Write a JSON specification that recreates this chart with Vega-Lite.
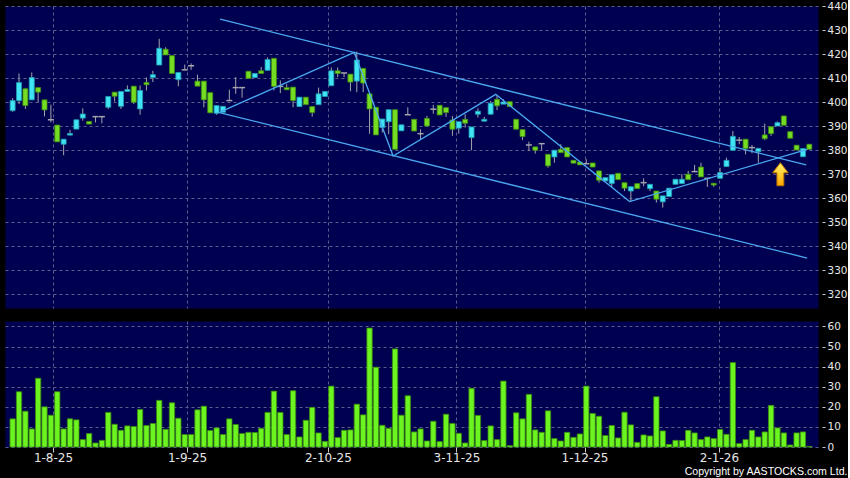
{
"$schema": "https://vega.github.io/schema/vega-lite/v6.json",
"background": "#000000",
"padding": {"left": 4, "top": 0, "right": 0, "bottom": 0},
"spacing": 11,
"title": {"text": "Copyright by AASTOCKS.com Ltd.", "orient": "bottom", "anchor": "end", "font": "Liberation Sans", "fontSize": 10.6, "fontWeight": "normal", "color": "#ffffff", "offset": 3},
"config": {
  "view": {"fill": "#000050", "stroke": "transparent"},
  "axis": {"domain": false, "title": null, "gridColor": "#5e5e8e", "gridDash": [3, 3], "gridWidth": 1, "labelColor": "#e6e6e6", "labelFont": "DejaVu Sans", "tickColor": "#c8c8c8", "labelOverlap": false}
},
"datasets": {
  "k": [
{"i":0,"o":396.5,"h":401.7,"l":396,"c":400.7,"v":14},
{"i":1,"o":400.7,"h":412,"l":399.3,"c":408.2,"v":27.5},
{"i":2,"o":405.6,"h":406,"l":397.2,"c":398.6,"v":17.8},
{"i":3,"o":401,"h":412.4,"l":401,"c":410.3,"v":9},
{"i":4,"o":406.1,"h":406.1,"l":400,"c":404.2,"v":34.2},
{"i":5,"o":401,"h":401,"l":394.1,"c":396.8,"v":20},
{"i":6,"o":392.7,"h":399,"l":391.6,"c":392.7,"v":15.8},
{"i":7,"o":390.5,"h":390.5,"l":383.5,"c":383.5,"v":27.5},
{"i":8,"o":382.5,"h":384.6,"l":377.9,"c":384.6,"v":9},
{"i":9,"o":386.3,"h":388.5,"l":386.3,"c":387,"v":14},
{"i":10,"o":388.8,"h":392.7,"l":388.8,"c":392.7,"v":13.5},
{"i":11,"o":393.4,"h":397.5,"l":392.3,"c":395.1,"v":3.7},
{"i":12,"o":392,"h":392,"l":390.9,"c":390.9,"v":6.7},
{"i":13,"o":394,"h":394,"l":391.6,"c":394,"v":2},
{"i":14,"o":394,"h":394,"l":391.2,"c":394,"v":3.3},
{"i":15,"o":397.9,"h":402.4,"l":397.2,"c":402.4,"v":17.2},
{"i":16,"o":404.2,"h":404.2,"l":400.3,"c":402.5,"v":11.3},
{"i":17,"o":398.3,"h":404.5,"l":397.2,"c":404.5,"v":8.3},
{"i":18,"o":404.5,"h":407,"l":404.5,"c":405.3,"v":10.5},
{"i":19,"o":406.7,"h":406.7,"l":399.3,"c":400,"v":10.2},
{"i":20,"o":397.2,"h":407,"l":394.8,"c":404.9,"v":18.7},
{"i":21,"o":408.2,"h":410.3,"l":404.9,"c":407.3,"v":10.7},
{"i":22,"o":410.3,"h":413.1,"l":408.4,"c":411.5,"v":11.7},
{"i":23,"o":415.5,"h":426.4,"l":415.5,"c":422.5,"v":23.2},
{"i":24,"o":422.1,"h":422.9,"l":419.7,"c":419.7,"v":8.8},
{"i":25,"o":419.4,"h":419.4,"l":412,"c":412,"v":22},
{"i":26,"o":409.4,"h":412.4,"l":406.7,"c":412.4,"v":14.3},
{"i":27,"o":413.5,"h":415.7,"l":413.5,"c":413.5,"v":6.2},
{"i":28,"o":415.2,"h":416.2,"l":413.5,"c":415.2,"v":6.2},
{"i":29,"o":408.8,"h":411.5,"l":406.7,"c":406.7,"v":18.5},
{"i":30,"o":408.8,"h":408.8,"l":397.9,"c":401,"v":20.3},
{"i":31,"o":404,"h":404,"l":395.6,"c":395.6,"v":8.2},
{"i":32,"o":395.4,"h":398.6,"l":394.8,"c":398.6,"v":9.5},
{"i":33,"o":395.8,"h":398.3,"l":395.8,"c":398.3,"v":6.2},
{"i":34,"o":400.7,"h":405.2,"l":400.7,"c":400.7,"v":14},
{"i":35,"o":406.1,"h":410.5,"l":403.5,"c":406.1,"v":11.2},
{"i":36,"o":406.1,"h":406.1,"l":401.9,"c":406.1,"v":6.7},
{"i":37,"o":412.9,"h":412.9,"l":409.9,"c":409.9,"v":7.3},
{"i":38,"o":410.3,"h":412,"l":410.3,"c":412,"v":7.2},
{"i":39,"o":413.1,"h":414.7,"l":412,"c":412,"v":9.3},
{"i":40,"o":413.3,"h":418.7,"l":413.3,"c":417.8,"v":17.2},
{"i":41,"o":418.3,"h":418.3,"l":404.9,"c":406.6,"v":27.8},
{"i":42,"o":406.6,"h":409.1,"l":403.8,"c":406.6,"v":17.2},
{"i":43,"o":406.1,"h":407.5,"l":405.2,"c":405.2,"v":6.2},
{"i":44,"o":406.3,"h":406.3,"l":397.9,"c":400.7,"v":28},
{"i":45,"o":398.2,"h":402.1,"l":398.2,"c":402.1,"v":5},
{"i":46,"o":402.1,"h":402.1,"l":399,"c":399,"v":13.3},
{"i":47,"o":398.2,"h":398.2,"l":394,"c":395.7,"v":19.7},
{"i":48,"o":399,"h":406.1,"l":399,"c":403.5,"v":7},
{"i":49,"o":402.4,"h":404.5,"l":402.4,"c":404.5,"v":2.8},
{"i":50,"o":406.9,"h":414.5,"l":406.9,"c":413.1,"v":30.3},
{"i":51,"o":413.1,"h":414.5,"l":410.5,"c":412,"v":4.7},
{"i":52,"o":412.2,"h":412.2,"l":410.5,"c":412.2,"v":8.3},
{"i":53,"o":411.7,"h":411.7,"l":404.6,"c":408.4,"v":8.5},
{"i":54,"o":408.8,"h":421.1,"l":404.2,"c":417.6,"v":21.3},
{"i":55,"o":414.1,"h":414.1,"l":404.2,"c":408,"v":16},
{"i":56,"o":403.5,"h":403.5,"l":386.9,"c":397.2,"v":59.2},
{"i":57,"o":397.9,"h":397.9,"l":386.4,"c":386.4,"v":39.7},
{"i":58,"o":389.5,"h":393,"l":387.4,"c":393,"v":10.8},
{"i":59,"o":391.9,"h":396.9,"l":386.7,"c":396.9,"v":9.3},
{"i":60,"o":396.9,"h":396.9,"l":380.4,"c":380.4,"v":48.8},
{"i":61,"o":388.1,"h":390.6,"l":388.1,"c":390.6,"v":15.8},
{"i":62,"o":394.8,"h":397.9,"l":394.8,"c":394.8,"v":25.5},
{"i":63,"o":392.9,"h":392.9,"l":388,"c":388,"v":7.5},
{"i":64,"o":386.9,"h":388.75,"l":384.6,"c":386.9,"v":9},
{"i":65,"o":393.3,"h":394.3,"l":390.1,"c":390.1,"v":3},
{"i":66,"o":397.1,"h":398.9,"l":395.25,"c":397.1,"v":12.8},
{"i":67,"o":398.75,"h":398.75,"l":394.7,"c":394.7,"v":2.7},
{"i":68,"o":397.75,"h":397.75,"l":393.9,"c":395.7,"v":16.3},
{"i":69,"o":392.6,"h":394.3,"l":386,"c":388.75,"v":11.7},
{"i":70,"o":389.2,"h":391.9,"l":386.9,"c":391.9,"v":6.8},
{"i":71,"o":392.9,"h":395,"l":389.4,"c":391.25,"v":2},
{"i":72,"o":385.25,"h":389.7,"l":380,"c":389.7,"v":29.2},
{"i":73,"o":395,"h":397.5,"l":393.6,"c":396.25,"v":15.7},
{"i":74,"o":392.1,"h":393.9,"l":392.1,"c":392.9,"v":3.2},
{"i":75,"o":395,"h":400.5,"l":395,"c":399.6,"v":10.5},
{"i":76,"o":401.25,"h":403,"l":396.7,"c":398.5,"v":3.7},
{"i":77,"o":399.2,"h":401.25,"l":399.2,"c":400.1,"v":32.8},
{"i":78,"o":400.25,"h":400.25,"l":398.2,"c":398.2,"v":0.7},
{"i":79,"o":392.9,"h":392.9,"l":388.75,"c":388.75,"v":17},
{"i":80,"o":388.6,"h":388.6,"l":384.2,"c":385.7,"v":14},
{"i":81,"o":382.2,"h":383.6,"l":379.7,"c":382.2,"v":26.2},
{"i":82,"o":381.4,"h":381.4,"l":378.6,"c":380,"v":8.5},
{"i":83,"o":382.75,"h":382.75,"l":380,"c":382.75,"v":7.3},
{"i":84,"o":378.3,"h":378.3,"l":372.75,"c":373.5,"v":18},
{"i":85,"o":377.2,"h":380,"l":374.8,"c":380,"v":4.2},
{"i":86,"o":380.4,"h":382.5,"l":379,"c":379,"v":3},
{"i":87,"o":381.1,"h":381.1,"l":377.2,"c":377.2,"v":7.3},
{"i":88,"o":375.8,"h":375.8,"l":374.6,"c":374.6,"v":4.8},
{"i":89,"o":375.1,"h":375.1,"l":373.9,"c":373.9,"v":6.5},
{"i":90,"o":374.4,"h":376.25,"l":374.4,"c":374.4,"v":30.3},
{"i":91,"o":374.7,"h":374.7,"l":373,"c":373,"v":16.7},
{"i":92,"o":371.4,"h":371.4,"l":366.5,"c":367.5,"v":15.3},
{"i":93,"o":367.2,"h":368.6,"l":367.2,"c":368.6,"v":5.7},
{"i":94,"o":366.1,"h":369.8,"l":364.8,"c":369.8,"v":10.7},
{"i":95,"o":370.4,"h":370.4,"l":367.75,"c":367.75,"v":4.5},
{"i":96,"o":366.5,"h":366.5,"l":363,"c":364.2,"v":17.3},
{"i":97,"o":363,"h":364.8,"l":358.5,"c":364.8,"v":11},
{"i":98,"o":366.1,"h":366.1,"l":364,"c":364,"v":2.3},
{"i":99,"o":366.5,"h":368.3,"l":365,"c":366.5,"v":6},
{"i":100,"o":364,"h":365.8,"l":363,"c":365.8,"v":5.5},
{"i":101,"o":363,"h":363,"l":358.2,"c":359.6,"v":25},
{"i":102,"o":358.5,"h":361,"l":356.1,"c":361,"v":8},
{"i":103,"o":360.7,"h":364.2,"l":360.7,"c":364.2,"v":1.3},
{"i":104,"o":365.8,"h":367.9,"l":365.8,"c":367.9,"v":3.3},
{"i":105,"o":366.1,"h":370,"l":366.1,"c":367.9,"v":3.2},
{"i":106,"o":370,"h":371.4,"l":367.75,"c":367.75,"v":8.3},
{"i":107,"o":371.1,"h":373.9,"l":371.1,"c":371.1,"v":7},
{"i":108,"o":373,"h":374.8,"l":368.9,"c":368.9,"v":3.7},
{"i":109,"o":368.3,"h":368.3,"l":364.7,"c":368.3,"v":5},
{"i":110,"o":366.25,"h":366.25,"l":364.7,"c":365.5,"v":4.2},
{"i":111,"o":368.3,"h":372.75,"l":368.3,"c":370.7,"v":8.7},
{"i":112,"o":373.2,"h":376.9,"l":373.2,"c":375.8,"v":6.3},
{"i":113,"o":380,"h":388,"l":380,"c":385.8,"v":42},
{"i":114,"o":384.2,"h":385.5,"l":382.5,"c":384.2,"v":1.7},
{"i":115,"o":384.6,"h":384.6,"l":378.3,"c":380.7,"v":3.7},
{"i":116,"o":381.1,"h":382.2,"l":378.75,"c":381.1,"v":8.3},
{"i":117,"o":379.4,"h":380.8,"l":374.8,"c":380.8,"v":5},
{"i":118,"o":386.4,"h":391.1,"l":384.2,"c":384.8,"v":7.5},
{"i":119,"o":389.8,"h":389.8,"l":386,"c":386.9,"v":20.7},
{"i":120,"o":390.1,"h":392,"l":390.1,"c":391.5,"v":9.5},
{"i":121,"o":394.3,"h":394.3,"l":390.4,"c":390.4,"v":7},
{"i":122,"o":387.75,"h":387.75,"l":385,"c":385,"v":1},
{"i":123,"o":382.1,"h":382.1,"l":380.1,"c":380.1,"v":7},
{"i":124,"o":377.3,"h":380.7,"l":377.3,"c":380.7,"v":7.5},
{"i":125,"o":382.5,"h":382.5,"l":380.4,"c":380.4,"v":0.3}
  ],
  "lines": [
{"s":"upper","k":0,"i":32.55,"p":434.6},
{"s":"upper","k":1,"i":124.5,"p":373.9},
{"s":"lower","k":0,"i":32.3,"p":395.8},
{"s":"lower","k":1,"i":124.65,"p":335.1},
{"s":"zig","k":0,"i":32.6,"p":396.0},
{"s":"zig","k":1,"i":53.6,"p":420.75},
{"s":"zig","k":2,"i":59.7,"p":377.6},
{"s":"zig","k":3,"i":75.8,"p":403.3},
{"s":"zig","k":4,"i":96.8,"p":358.6},
{"s":"zig","k":5,"i":124.7,"p":380.4}
  ],
  "arrow": [{"i":120.46,"p":370.0}]
},
"vconcat": [
  {
    "width": 813, "height": 302,
    "layer": [
      {
        "data": {"name": "k"},
        "mark": {"type": "rule", "color": "#a4a4ac", "strokeWidth": 1},
        "encoding": {
          "x": {"field": "i", "type": "quantitative", "scale": {"domain": [-0.414, 125.576], "nice": false, "zero": false},
                "axis": {"values": [6.33, 27.37, 49.46, 69.63, 89.73, 110.82], "labels": false, "ticks": false, "grid": true}},
          "y": {"field": "l", "type": "quantitative", "scale": {"domain": [314.27, 440.1], "nice": false, "zero": false},
                "axis": {"orient": "right", "values": [320, 330, 340, 350, 360, 370, 380, 390, 400, 410, 420, 430, 440], "grid": true, "offset": 4, "tickSize": 3, "labelPadding": 2, "labelFontSize": 10.5, "labelOverlap": false}},
          "y2": {"field": "h"}
        }
      },
      {
        "data": {"name": "k"},
        "transform": [{"filter": "datum.o != datum.c"}],
        "mark": {"type": "bar", "width": 5, "strokeWidth": 0.8},
        "encoding": {
          "x": {"field": "i", "type": "quantitative", "scale": {"domain": [-0.414, 125.576], "nice": false, "zero": false},
                "axis": {"values": [6.33, 27.37, 49.46, 69.63, 89.73, 110.82], "labels": false, "ticks": false, "grid": true}},
          "y": {"field": "o", "type": "quantitative", "scale": {"domain": [314.27, 440.1], "nice": false, "zero": false},
                "axis": {"orient": "right", "values": [320, 330, 340, 350, 360, 370, 380, 390, 400, 410, 420, 430, 440], "grid": true, "offset": 4, "tickSize": 3, "labelPadding": 2, "labelFontSize": 10.5, "labelOverlap": false}},
          "y2": {"field": "c"},
          "fill": {"condition": {"test": "datum.c > datum.o", "value": "#40e4f4"}, "value": "#74dc22"},
          "stroke": {"condition": {"test": "datum.c > datum.o", "value": "#1e9cae"}, "value": "#3e8c12"}
        }
      },
      {
        "data": {"name": "k"},
        "transform": [{"filter": "datum.o == datum.c"}],
        "mark": {"type": "tick", "orient": "horizontal", "size": 6, "thickness": 1.5, "color": "#a4a4ac", "opacity": 1},
        "encoding": {
          "x": {"field": "i", "type": "quantitative", "scale": {"domain": [-0.414, 125.576], "nice": false, "zero": false},
                "axis": {"values": [6.33, 27.37, 49.46, 69.63, 89.73, 110.82], "labels": false, "ticks": false, "grid": true}},
          "y": {"field": "o", "type": "quantitative", "scale": {"domain": [314.27, 440.1], "nice": false, "zero": false},
                "axis": {"orient": "right", "values": [320, 330, 340, 350, 360, 370, 380, 390, 400, 410, 420, 430, 440], "grid": true, "offset": 4, "tickSize": 3, "labelPadding": 2, "labelFontSize": 10.5, "labelOverlap": false}}
        }
      },
      {
        "data": {"name": "lines"},
        "mark": {"type": "line", "color": "#4aa8f0", "strokeWidth": 1.3},
        "encoding": {
          "x": {"field": "i", "type": "quantitative", "scale": {"domain": [-0.414, 125.576], "nice": false, "zero": false},
                "axis": {"values": [6.33, 27.37, 49.46, 69.63, 89.73, 110.82], "labels": false, "ticks": false, "grid": true}},
          "y": {"field": "p", "type": "quantitative", "scale": {"domain": [314.27, 440.1], "nice": false, "zero": false},
                "axis": {"orient": "right", "values": [320, 330, 340, 350, 360, 370, 380, 390, 400, 410, 420, 430, 440], "grid": true, "offset": 4, "tickSize": 3, "labelPadding": 2, "labelFontSize": 10.5, "labelOverlap": false}},
          "detail": {"field": "s"},
          "order": {"field": "k"}
        }
      },
      {
        "data": {"name": "arrow"},
        "mark": {"type": "point", "filled": true, "size": 529, "opacity": 1, "strokeWidth": 1, "stroke": "#b87000",
                 "shape": "M0,-1L0.68,-0.12L0.3,-0.12L0.3,1L-0.3,1L-0.3,-0.12L-0.68,-0.12Z",
                 "fill": {"gradient": "linear", "x1": 0, "y1": 0, "x2": 0, "y2": 1, "stops": [{"offset": 0, "color": "#fff36a"}, {"offset": 1, "color": "#ffa800"}]}},
        "encoding": {
          "x": {"field": "i", "type": "quantitative", "scale": {"domain": [-0.414, 125.576], "nice": false, "zero": false},
                "axis": {"values": [6.33, 27.37, 49.46, 69.63, 89.73, 110.82], "labels": false, "ticks": false, "grid": true}},
          "y": {"field": "p", "type": "quantitative", "scale": {"domain": [314.27, 440.1], "nice": false, "zero": false},
                "axis": {"orient": "right", "values": [320, 330, 340, 350, 360, 370, 380, 390, 400, 410, 420, 430, 440], "grid": true, "offset": 4, "tickSize": 3, "labelPadding": 2, "labelFontSize": 10.5, "labelOverlap": false}}
        }
      }
    ]
  },
  {
    "width": 813, "height": 126,
    "data": {"name": "k"},
    "mark": {"type": "bar", "width": 5.3, "fill": "#6cf420", "stroke": "#3a8c0c", "strokeWidth": 0.8},
    "encoding": {
      "x": {"field": "i", "type": "quantitative", "scale": {"domain": [-0.414, 125.576], "nice": false, "zero": false},
            "axis": {"values": [6.33, 27.37, 49.46, 69.63, 89.73, 110.82], "grid": true, "tickSize": 5, "labelPadding": 0, "labelFontSize": 12,
                     "labelExpr": "datum.value < 10 ? '1-8-25' : datum.value < 30 ? '1-9-25' : datum.value < 55 ? '2-10-25' : datum.value < 80 ? '3-11-25' : datum.value < 100 ? '1-12-25' : '2-1-26'"}},
      "y": {"field": "v", "type": "quantitative", "scale": {"domain": [0, 62.7], "nice": false},
            "axis": {"orient": "right", "values": [0, 10, 20, 30, 40, 50, 60], "grid": true, "offset": 4, "tickSize": 3, "labelPadding": 2, "labelFontSize": 10.5}}
    }
  }
]
}
